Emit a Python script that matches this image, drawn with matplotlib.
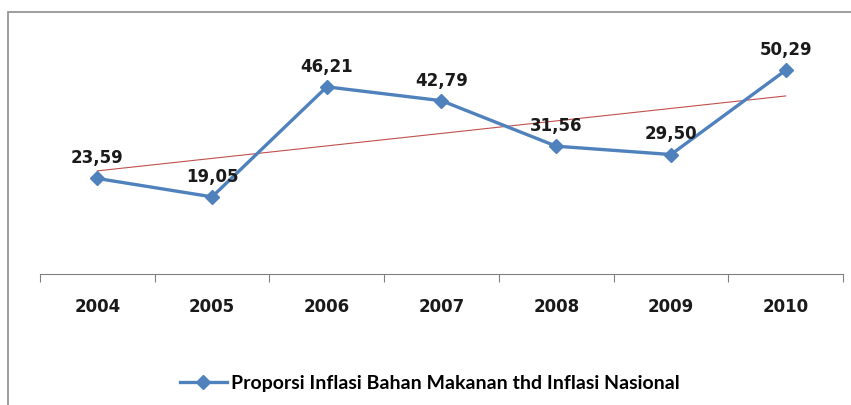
import numpy as np
import matplotlib.pyplot as plt
from matplotlib.patches import Rectangle

years = ['2004', '2005', '2006', '2007', '2008', '2009', '2010']
proporsi = [23.59, 19.05, 46.21, 42.79, 31.56, 29.50, 50.29]
series_name = 'Proporsi Inflasi Bahan Makanan thd Inflasi Nasional'

blue = '#4F81BD'
x = np.arange(len(years))

fig = plt.figure(figsize=(8.51, 4.05), dpi=100)
ax = fig.add_axes([40 / 851, 1 - 274 / 405, 803 / 851, 243 / 405])

# outer chart frame
fig.patches.append(Rectangle((8 / 851, -0.1), 1.2, 1.1 - 12 / 405, transform=fig.transFigure,
                             fill=False, edgecolor='#8c8c8c', linewidth=1.2, zorder=0))

line, = ax.plot(x, proporsi, color=blue, linewidth=2.4, marker='D', markersize=7.5,
                markerfacecolor=blue, markeredgecolor=blue, label=series_name, zorder=3)

# linear trend
coef = np.polyfit(x, proporsi, 1)
ax.plot(x, np.polyval(coef, x), color='#C0504D', linewidth=0.8, zorder=2)

for xi, v in zip(x, proporsi):
    ax.annotate(('%.2f' % v).replace('.', ','), (xi, v), xytext=(0, 8), textcoords='offset points',
                ha='center', va='bottom', fontsize=12, fontweight='bold', color='#1a1a1a')

ax.set_xlim(-0.5, len(years) - 0.5)
ax.set_ylim(0, 60)
ax.set_xticks(np.arange(-0.5, len(years), 1.0))
ax.set_xticklabels([])
ax.set_xticks(x, minor=True)
ax.set_xticklabels(years, minor=True, fontsize=12, fontweight='bold', color='#1a1a1a')
ax.tick_params(axis='x', which='major', direction='out', length=6, color='#808080')
ax.tick_params(axis='x', which='minor', length=0, pad=17)
ax.set_yticks([])
for s in ['left', 'right', 'top']:
    ax.spines[s].set_visible(False)
ax.spines['bottom'].set_color('#808080')
ax.patch.set_alpha(0)

fig.legend(handles=[line], loc='center', bbox_to_anchor=(0.505, 1 - 383 / 405), frameon=False,
           handlelength=2.4, handletextpad=0.2, prop={'family': 'Lato', 'weight': 'bold', 'size': 14})

fig.savefig('out.png', dpi=100)
